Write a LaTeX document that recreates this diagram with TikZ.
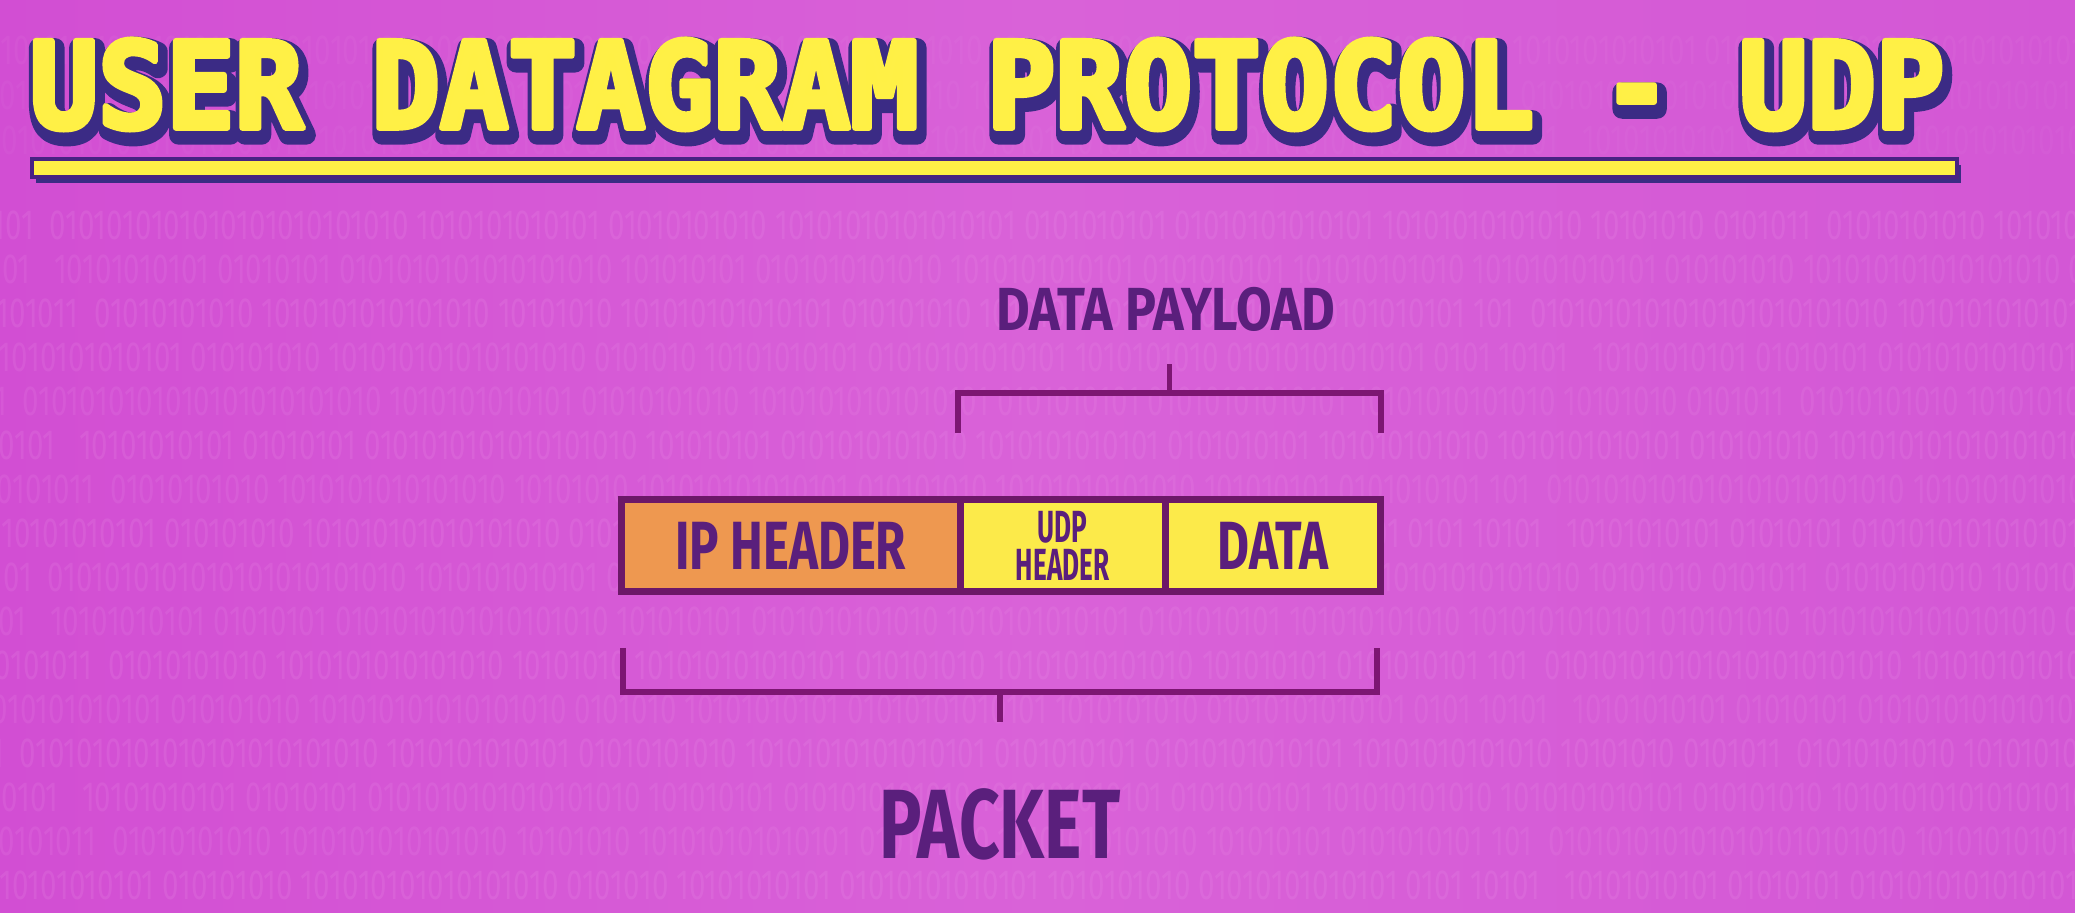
\documentclass[tikz,border=0pt]{standalone}
\usepackage{fontspec}
\usetikzlibrary{positioning}

\newfontfamily\labelfont[FakeStretch=0.72]{Fira Sans}
\newfontfamily\widelabelfont[FakeStretch=0.85]{Fira Sans}
\newfontfamily\narrowlabelfont[FakeStretch=0.58]{Fira Sans}
\newfontfamily\titlefont[FakeStretch=0.95]{DejaVu Sans Mono}
\newfontfamily\bitfont[FakeStretch=0.7]{Fira Sans}

\definecolor{bgleft}{HTML}{D24ED3}
\definecolor{bgmid}{HTML}{D962D8}
\definecolor{bgright}{HTML}{D357D5}
\definecolor{bitpink}{HTML}{F3A6EE}
\definecolor{ink}{HTML}{5A1F7C}
\definecolor{bracket}{HTML}{7C1672}
\definecolor{boxline}{HTML}{6C1868}
\definecolor{ipfill}{HTML}{EE9850}
\definecolor{udpfill}{HTML}{FCEA4A}
\definecolor{titleyellow}{HTML}{FFF046}
\definecolor{titleshade}{HTML}{3A2C84}

% text drawn with fill and stroke (pdf render mode 2), round joins
\newcommand\strokedtext[3]{\special{pdf:literal direct 2 Tr 1 j 1 J #1 w #2 RG}#3\special{pdf:literal direct 0 Tr}}

\newcommand\bitsA{101\ \ 0101010101010101010101010 1010101010101 01010101010 10101010101010101 0101010101 01010101010101 10101010101010 10101010}
\newcommand\bitsB{10101\ \ \ 10101010101 01010101 0101010101010101010 101010101 0101010101010 1010101010101 0101010101 101010101010}
\newcommand\bitsC{0101011\ \ 01010101010 1010101010101010 10101010 101010101010101 010101010 10101010101010 101010101 0101010101}
\newcommand\bitsD{1010101010101 010101010 101010101010101010 0101010 10101010101 01010101010101 1010101010 01010101010101 0101}

\tikzset{
  seg/.style={draw=boxline, line width=2pt, minimum height=0.92cm, inner sep=0pt, outer sep=0pt,
    text=ink, font=\labelfont\bfseries\fontsize{19.4}{19.4}\selectfont},
  brace/.style={draw=bracket, line width=1.6pt},
  caption/.style={text=ink, inner sep=0pt},
  bits/.style={anchor=west, text=bitpink, inner sep=0pt, font=\bitfont\fontsize{12}{12}\selectfont},
}

\begin{document}
\begin{tikzpicture}[x=0.01cm, y=-0.01cm]
  \useasboundingbox (0,0) rectangle (2075,913);
  \fill[left color=bgleft, right color=bgright, middle color=bgmid] (0,0) rectangle (2075,913);

  % binary texture
  \foreach \y/\o/\dx [count=\i] in {50/0.07/0, 95/0.06/-30, 140/0.06/-12,
      225/0.14/-8, 269/0.12/-40, 313/0.14/-20, 357/0.13/-2, 401/0.12/-35,
      445/0.14/-15, 489/0.12/-4, 533/0.14/-28, 577/0.13/-10, 621/0.12/-44,
      665/0.14/-6, 709/0.12/-22, 753/0.14/-38, 797/0.13/-12, 841/0.12/-2, 885/0.14/-30}{
    \pgfmathtruncatemacro\k{mod(\i,4)}
    \ifcase\k
      \node[bits, opacity=\o] (bits\i) at (\dx,\y) {\bitsA\ \bitsC};
    \or
      \node[bits, opacity=\o] (bits\i) at (\dx,\y) {\bitsB\ \bitsD};
    \or
      \node[bits, opacity=\o] (bits\i) at (\dx,\y) {\bitsC\ \bitsA};
    \else
      \node[bits, opacity=\o] (bits\i) at (\dx,\y) {\bitsD\ \bitsB};
    \fi
  }

  % title
  \node[anchor=base west, inner sep=0pt, text=titleshade,
    font=\titlefont\bfseries\fontsize{34}{34}\selectfont] (titleshadow) at (32,135)
    {\strokedtext{5.5}{0.23 0.17 0.52}{USER DATAGRAM PROTOCOL - UDP}};
  \node[anchor=base west, inner sep=0pt, text=titleyellow,
    font=\titlefont\bfseries\fontsize{34}{34}\selectfont] (title) at (29,128)
    {\strokedtext{1.6}{1 0.94 0.27}{USER DATAGRAM PROTOCOL - UDP}};
  \fill[titleshade] (36,165) rectangle (1961,183);
  \filldraw[fill=titleyellow, draw=titleshade!80!violet, line width=1.2pt] (32,159) rectangle (1957,177);

  % packet
  \node[seg, fill=ipfill, minimum width=3.385cm] (ip) at (790.75,545.5) {IP HEADER};
  \node[seg, fill=udpfill, minimum width=2.05cm, right=0pt of ip, align=center,
    font=\narrowlabelfont\bfseries\fontsize{12.8}{10.8}\selectfont] (udp) {UDP\\HEADER};
  \node[seg, fill=udpfill, minimum width=2.155cm, right=0pt of udp] (data) {DATA};

  % data payload bracket
  \node[caption, font=\widelabelfont\bfseries\fontsize{17.3}{17.3}\selectfont] (payload) at (1166,309) {DATA PAYLOAD};
  \coordinate (pl) at (958,433);
  \coordinate (pr) at (1381,433);
  \coordinate (pm) at (1169.5,393);
  \coordinate (ptop) at (1169.5,364);
  \draw[brace] (pl) -- (pl |- pm) -- (pr |- pm) -- (pr);
  \draw[brace] (pm) -- (ptop);

  % packet bracket
  \node[caption, font=\labelfont\bfseries\fontsize{28}{28}\selectfont] (packet) at (1000,824) {PACKET};
  \coordinate (kl) at (623,648);
  \coordinate (kr) at (1377,648);
  \coordinate (km) at (1000,692);
  \coordinate (kbot) at (1000,722);
  \draw[brace] (kl) -- (kl |- km) -- (kr |- km) -- (kr);
  \draw[brace] (km) -- (kbot);
\end{tikzpicture}
\end{document}
